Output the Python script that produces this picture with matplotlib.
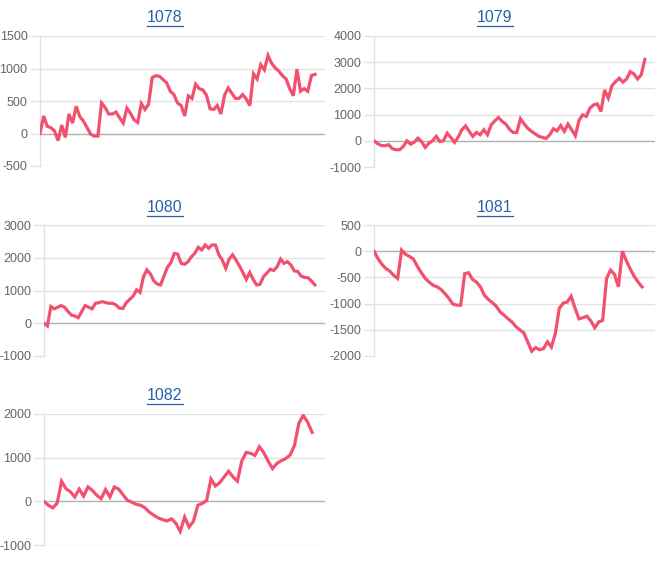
import numpy as np
import matplotlib
matplotlib.use("Agg")
import matplotlib.pyplot as plt
from matplotlib.lines import Line2D

titles = ["1078", "1079", "1080", "1081", "1082"]

s1078 = [0, 270, 110, 90, 40, -110, 130, -60, 300, 160, 420, 260, 190, 90, -10, -40, -40,
         470, 400, 300, 300, 330, 240, 160, 390, 310, 210, 170, 460, 370, 450, 860, 890,
         880, 830, 780, 650, 600, 470, 430, 270, 580, 540, 760, 690, 670, 590, 380, 370,
         430, 300, 590, 700, 620, 540, 540, 600, 530, 430, 920, 840, 1060, 980, 1200,
         1080, 1010, 960, 890, 840, 690, 580, 990, 650, 690, 650, 890, 910]

s1079 = [0, -110, -180, -190, -150, -300, -340, -340, -220, 0, -130, -50, 100, -30, -250,
         -90, 0, 170, -30, 10, 290, 130, -60, 140, 420, 570, 360, 170, 320, 230, 420, 230,
         610, 760, 890, 740, 640, 440, 320, 320, 840, 650, 480, 360, 270, 170, 130, 90,
         230, 460, 380, 580, 360, 640, 420, 190, 780, 990, 930, 1250, 1370, 1410, 1120,
         1940, 1630, 2100, 2260, 2390, 2240, 2360, 2640, 2550, 2360, 2520, 3110]

s1080 = [0, -80, 510, 440, 490, 540, 490, 360, 250, 220, 170, 360, 540, 490, 440, 610, 630,
         660, 630, 610, 610, 560, 460, 450, 630, 730, 830, 1020, 940, 1420, 1630, 1510,
         1300, 1200, 1170, 1440, 1710, 1850, 2130, 2110, 1830, 1800, 1880, 2030, 2140,
         2320, 2240, 2390, 2290, 2390, 2390, 2090, 1930, 1680, 1960, 2090, 1930, 1750,
         1550, 1340, 1550, 1340, 1170, 1190, 1420, 1530, 1650, 1610, 1730, 1960, 1830,
         1880, 1780, 1600, 1580, 1440, 1400, 1390, 1290, 1170]

s1081 = [0, -140, -250, -330, -380, -460, -520, 20, -60, -100, -150, -290, -410, -520, -590,
         -650, -680, -730, -810, -900, -1010, -1030, -1030, -430, -410, -540, -590, -680,
         -840, -920, -980, -1050, -1160, -1220, -1290, -1350, -1440, -1500, -1560, -1730,
         -1910, -1840, -1880, -1860, -1730, -1830, -1570, -1090, -990, -970, -860, -1090,
         -1290, -1270, -1240, -1330, -1460, -1350, -1320, -520, -360, -440, -680, 0, -180,
         -340, -480, -590, -680]

s1082 = [0, -90, -150, -40, 460, 290, 220, 100, 280, 120, 330, 250, 140, 60, 270, 100, 330,
         280, 150, 20, -20, -70, -90, -150, -250, -320, -380, -420, -450, -400, -500, -690,
         -360, -590, -460, -90, -50, 20, 510, 350, 430, 560, 690, 560, 460, 920, 1120, 1100,
         1050, 1250, 1120, 920, 750, 870, 930, 980, 1060, 1280, 1790, 1970, 1810, 1580]

series = [s1078, s1079, s1080, s1081, s1082]
ylims = [(-500, 1500), (-1000, 4000), (-1000, 3000), (-2000, 500), (-1000, 2000)]
ysteps = [500, 1000, 1000, 500, 1000]

W, H = 660, 563
# axes boxes in pixels: left, top, right, bottom
boxes = [(40, 36, 325, 166), (374, 36, 655, 167), (44, 225, 325, 356),
         (374, 225, 655, 356), (44, 414, 325, 545)]
line_fill = [0.965, 0.964, 0.964, 0.954, 0.954]
title_pos = [(165, 17), (495, 17), (165, 207), (495, 207), (165, 395)]

LINE_COLOR = "#f2506f"
GRID_COLOR = "#e2e2e2"
ZERO_COLOR = "#b0b0b0"
TICK_COLOR = "#666666"
TITLE_COLOR = "#2862a8"
FONT = ["Liberation Sans", "DejaVu Sans"]

fig = plt.figure(figsize=(W / 100, H / 100), dpi=100)
fig.patch.set_facecolor("white")

title_texts = []
for i, vals in enumerate(series):
    l, t, r, b = boxes[i]
    ax = fig.add_axes([l / W, 1 - b / H, (r - l) / W, (b - t) / H])
    x = np.arange(len(vals))
    ax.plot(x, vals, color=LINE_COLOR, lw=2.3, solid_joinstyle="miter", zorder=3)
    ax.set_xlim(0, (len(vals) - 1) / line_fill[i])
    lo, hi = ylims[i]
    ax.set_ylim(lo, hi)
    ticks = np.arange(lo, hi + 1, ysteps[i])
    ax.set_yticks(ticks)
    ax.set_yticklabels([str(int(v)) for v in ticks], fontsize=9, color=TICK_COLOR,
                       family=FONT)
    ax.set_xticks([])
    for v in ticks:
        ax.axhline(v, color=ZERO_COLOR if v == 0 else GRID_COLOR, lw=1.0, zorder=1)
    ax.tick_params(axis="y", length=7, color=GRID_COLOR, width=1.0, pad=2)
    for sp in ["top", "right", "bottom"]:
        ax.spines[sp].set_visible(False)
    ax.spines["left"].set_color(GRID_COLOR)
    ax.spines["left"].set_linewidth(1.0)
    ax.set_facecolor("white")
    tx, ty = title_pos[i]
    txt = fig.text(tx / W, 1 - ty / H, titles[i], ha="center", va="center",
                   color=TITLE_COLOR, fontsize=11.5, family=FONT)
    title_texts.append(txt)

fig.canvas.draw()
renderer = fig.canvas.get_renderer()
for txt in title_texts:
    bb = txt.get_window_extent(renderer)
    yline = bb.y0 - 1.5
    fig.add_artist(Line2D([bb.x0 / W, bb.x1 / W], [yline / H, yline / H],
                          transform=fig.transFigure, color=TITLE_COLOR, lw=0.9))

fig.savefig("out.png", dpi=100, facecolor="white")
